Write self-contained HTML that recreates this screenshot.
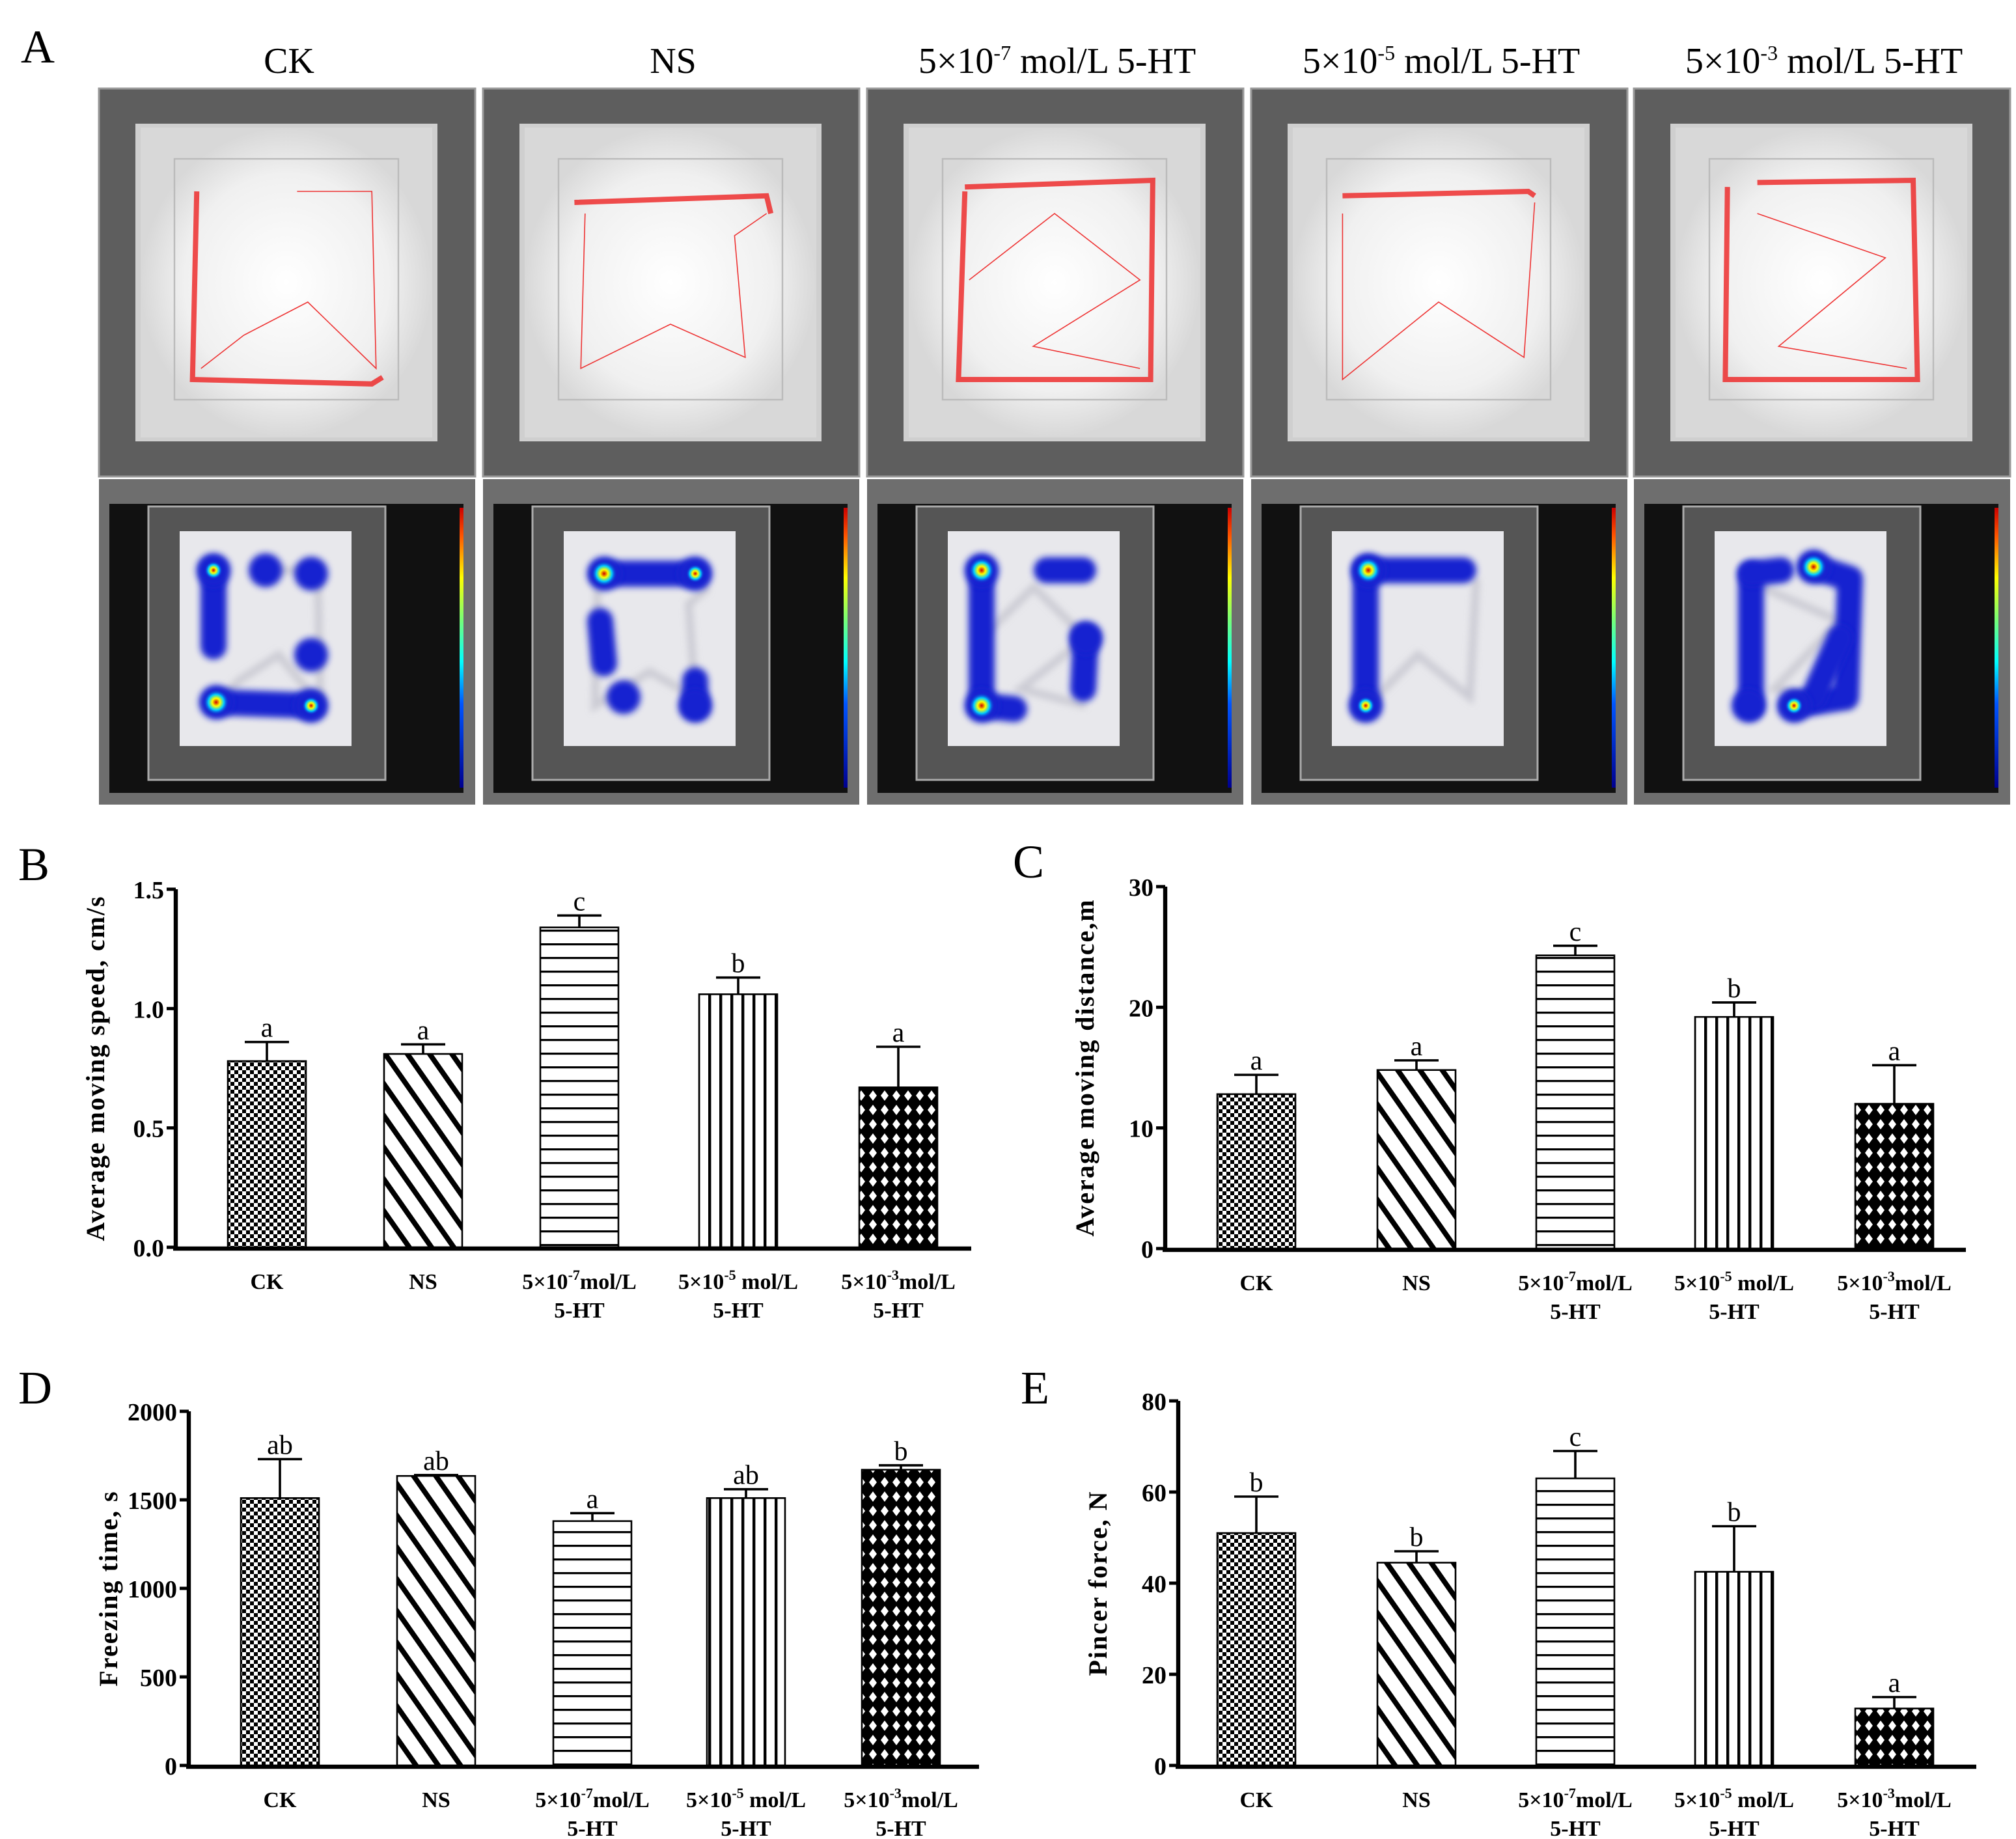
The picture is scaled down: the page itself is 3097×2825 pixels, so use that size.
<!DOCTYPE html>
<html><head><meta charset="utf-8">
<style>
html,body{margin:0;padding:0;background:#fff;}
svg{display:block;}
text{font-family:"Liberation Serif",serif;}
</style></head>
<body>
<svg id="fig" xmlns="http://www.w3.org/2000/svg" width="3097" height="2825" viewBox="0 0 1548.5 1412.5">
<defs>
<pattern id="p-check" width="6" height="6" patternUnits="userSpaceOnUse"><rect width="6" height="6" fill="#fff"/><rect width="3" height="3" fill="#000"/><rect x="3" y="3" width="3" height="3" fill="#000"/></pattern>
<pattern id="p-diag" width="14" height="14" patternUnits="userSpaceOnUse" patternTransform="rotate(-35)"><rect width="14" height="14" fill="#fff"/><rect width="4" height="14" fill="#000"/></pattern>
<pattern id="p-hor" width="10" height="10.5" patternUnits="userSpaceOnUse"><rect width="10" height="10.5" fill="#fff"/><rect y="0" width="10" height="1.6" fill="#000"/></pattern>
<pattern id="p-ver" width="8.5" height="10" patternUnits="userSpaceOnUse"><rect width="8.5" height="10" fill="#fff"/><rect width="2.2" height="10" fill="#000"/></pattern>
<pattern id="p-cross" width="9" height="11" patternUnits="userSpaceOnUse"><rect width="9" height="11" fill="#000"/><path d="M4.5 1.5 L7.5 5.5 L4.5 9.5 L1.5 5.5Z" fill="#fff"/></pattern>
<filter id="blur2" filterUnits="userSpaceOnUse" x="0" y="0" width="1549" height="1413"><feGaussianBlur stdDeviation="2.5"/></filter>
<radialGradient id="glow"><stop offset="0" stop-color="#fff"/><stop offset="0.7" stop-color="#f0f0f0"/><stop offset="1" stop-color="#d8d8d8"/></radialGradient>
<radialGradient id="hot"><stop offset="0" stop-color="#c00"/><stop offset="0.3" stop-color="#ff0"/><stop offset="0.6" stop-color="#0cf"/><stop offset="1" stop-color="#12c" stop-opacity="0"/></radialGradient>
<linearGradient id="cbar" x1="0" y1="1" x2="0" y2="0"><stop offset="0" stop-color="#00008f"/><stop offset="0.3" stop-color="#05f"/><stop offset="0.45" stop-color="#0ff"/><stop offset="0.6" stop-color="#7f7"/><stop offset="0.75" stop-color="#ff0"/><stop offset="0.9" stop-color="#f50"/><stop offset="1" stop-color="#c00"/></linearGradient>
</defs>
<g id="panelA"></g>
<g id="charts"></g>
</svg>
<script>
const NS='http://www.w3.org/2000/svg';
const svg=document.getElementById('fig');
function mk(tag,attrs,parent,txt){const e=document.createElementNS(NS,tag);for(const k in attrs)e.setAttribute(k,attrs[k]);if(txt!==undefined)e.textContent=txt;(parent||svg).appendChild(e);return e;}

// ---------- Panel A ----------
const A=document.getElementById('panelA');
const t=mk('text',{x:16,y:48,'font-size':36},A,'A');


const colX=[76,371,666,961,1255];
const colW=292;
const titles=[['CK'],['NS'],['5×10','-7',' mol/L 5-HT'],['5×10','-5',' mol/L 5-HT'],['5×10','-3',' mol/L 5-HT']];
const tracks=[
 [[0.08,0.1],[0.06,0.95],[0.9,0.97],[0.95,0.94]],
 [[0.05,0.15],[0.95,0.12],[0.97,0.2]],
 [[0.08,0.1],[0.05,0.95],[0.95,0.95],[0.96,0.05],[0.08,0.08]],
 [[0.05,0.12],[0.92,0.1],[0.95,0.12]],
 [[0.06,0.08],[0.05,0.95],[0.95,0.95],[0.93,0.05],[0.2,0.06]]];
const thin=[
 [[0.55,0.1],[0.9,0.1],[0.92,0.9],[0.6,0.6],[0.3,0.75],[0.1,0.9]],
 [[0.1,0.2],[0.08,0.9],[0.5,0.7],[0.85,0.85],[0.8,0.3],[0.95,0.2]],
 [[0.1,0.5],[0.5,0.2],[0.9,0.5],[0.4,0.8],[0.9,0.9]],
 [[0.05,0.2],[0.05,0.95],[0.5,0.6],[0.9,0.85],[0.95,0.15]],
 [[0.2,0.2],[0.8,0.4],[0.3,0.8],[0.9,0.9]]];
const heatPaths=[
 [[[0.1,0.1],[0.1,0.55]],[[0.12,0.88],[0.85,0.9]]],
 [[[0.15,0.12],[0.85,0.12]],[[0.12,0.4],[0.15,0.65]],[[0.85,0.75],[0.85,0.9]]],
 [[[0.1,0.1],[0.1,0.9],[0.35,0.92]],[[0.6,0.1],[0.88,0.1]],[[0.9,0.5],[0.88,0.8]]],
 [[[0.12,0.1],[0.85,0.1]],[[0.1,0.1],[0.1,0.9]]],
 [[[0.12,0.12],[0.12,0.9]],[[0.45,0.9],[0.85,0.85],[0.88,0.15],[0.6,0.08]],[[0.12,0.12],[0.35,0.1]],[[0.8,0.5],[0.6,0.85]]]];
const blobs=[
 [[0.1,0.1,1],[0.12,0.88,2],[0.85,0.9,1],[0.5,0.1,0],[0.85,0.12,0],[0.85,0.6,0]],
 [[0.15,0.12,2],[0.85,0.12,1],[0.3,0.85,0],[0.85,0.9,0]],
 [[0.1,0.1,2],[0.1,0.9,2],[0.9,0.5,0]],
 [[0.12,0.1,2],[0.1,0.9,1]],
 [[0.6,0.08,2],[0.45,0.9,1],[0.1,0.9,0]]];
for(let i=0;i<5;i++){
  const x=colX[i];
  const g=mk('g',{},A);
  
  
  const tt=mk('text',{x:x+colW/2,y:56,'font-size':28,'text-anchor':'middle'},g);
  
  
  tt.appendChild(document.createTextNode(titles[i][0]));
  if(titles[i].length>2){mk('tspan',{dy:-10,'font-size':16},tt,titles[i][1]);mk('tspan',{dy:10},tt,titles[i][2]);}
  const ph=mk('g',{},g);
  
  
  mk('rect',{x:x,y:68,width:colW-3,height:298,fill:'#5e5e5e',stroke:'#999','stroke-width':1.5},ph);
  mk('rect',{x:x+28,y:95,width:colW-60,height:244,fill:'#cfcfcf'},ph);
  mk('rect',{x:x+32,y:98,width:colW-68,height:238,fill:'url(#glow)'},ph);
  mk('rect',{x:x+58,y:122,width:colW-120,height:185,fill:'none',stroke:'#bbb','stroke-width':1.2},ph);
  const ix=x+62,iy=130,iw=colW-128,ih=170;
  const pt=a=>a.map(p=>(ix+p[0]*iw)+','+(iy+p[1]*ih)).join(' ');
  mk('polyline',{points:pt(tracks[i]),fill:'none',stroke:'#e22','stroke-width':4,'stroke-opacity':0.8},ph);
  mk('polyline',{points:pt(thin[i]),fill:'none',stroke:'#e33','stroke-width':0.8},ph);
  const hm=mk('g',{},g);
  
  
  mk('rect',{x:x,y:368,width:colW-3,height:250,fill:'#6e6e6e'},hm);
  mk('rect',{x:x+8,y:387,width:colW-20,height:222,fill:'#111'},hm);
  mk('rect',{x:x+38,y:389,width:colW-110,height:210,fill:'#555',stroke:'#aaa','stroke-width':1.5},hm);
  mk('rect',{x:x+62,y:408,width:colW-160,height:165,fill:'#e8e8ec'},hm);
  mk('rect',{x:x+277,y:390,width:3,height:215,fill:'url(#cbar)'},hm);
  const hx=x+78,hy=425,hw=colW-192,hh=130;
  const hp=a=>a.map(p=>(hx+p[0]*hw)+','+(hy+p[1]*hh)).join(' ');
  mk('polyline',{points:hp(thin[i]),fill:'none',stroke:'#99a','stroke-width':6,'stroke-opacity':0.35,filter:'url(#blur2)'},hm);
  heatPaths[i].forEach(p=>mk('polyline',{points:hp(p),fill:'none',stroke:'#1422d0','stroke-width':20,'stroke-linecap':'round','stroke-linejoin':'round',filter:'url(#blur2)'},hm));
  blobs[i].forEach(b=>{
    mk('circle',{cx:hx+b[0]*hw,cy:hy+b[1]*hh,r:13,fill:'#1422d0',filter:'url(#blur2)'},hm);
    if(b[2]>0)mk('circle',{cx:hx+b[0]*hw,cy:hy+b[1]*hh,r:b[2]==2?10:7,fill:'url(#hot)'},hm);
  });
}

// ---------- Bar charts ----------
const categories=['CK','NS','5×10-7mol/L 5-HT','5×10-5 mol/L 5-HT','5×10-3mol/L 5-HT'];
const speedValues=[0.78,0.81,1.34,1.06,0.67];
const speedErrors=[0.08,0.04,0.05,0.07,0.17];
const speedLetters=['a','a','c','b','a'];
const speedTicks=[0,0.5,1.0,1.5];
const distValues=[12.8,14.8,24.3,19.2,12.0];
const distErrors=[1.6,0.8,0.8,1.2,3.2];
const distLetters=['a','a','c','b','a'];
const distTicks=[0,10,20,30];
const freezeValues=[1510,1635,1380,1510,1670];
const freezeErrors=[220,5,45,50,25];
const freezeLetters=['ab','ab','a','ab','b'];
const freezeTicks=[0,500,1000,1500,2000];
const forceValues=[51,44.5,63,42.5,12.5];
const forceErrors=[8,2.5,6,10,2.5];
const forceLetters=['b','b','c','b','a'];
const forceTicks=[0,20,40,60,80];
const patterns=['url(#p-check)','url(#p-diag)','url(#p-hor)','url(#p-ver)','url(#p-cross)'];

const charts=[
 {name:'chart-b',label:'B',lx:14,ly:676,ax:135,y0:958,y1:683,max:1.5,xEnd:746,centers:[205,325,445,567,690],vals:speedValues,errs:speedErrors,lets:speedLetters,ticks:speedTicks,fmt:v=>v.toFixed(1),title:'Average moving speed,  cm/s',labY:990},
 {name:'chart-c',label:'C',lx:778,ly:674,ax:895,y0:959,y1:681,max:30,xEnd:1510,centers:[965,1088,1210,1332,1455],vals:distValues,errs:distErrors,lets:distLetters,ticks:distTicks,fmt:v=>String(v),title:'Average moving distance,m',labY:991},
 {name:'chart-d',label:'D',lx:14,ly:1078,ax:145,y0:1356,y1:1084,max:2000,xEnd:752,centers:[215,335,455,573,692],vals:freezeValues,errs:freezeErrors,lets:freezeLetters,ticks:freezeTicks,fmt:v=>String(v),title:'Freezing time,  s',labY:1388},
 {name:'chart-e',label:'E',lx:784,ly:1078,ax:905,y0:1356,y1:1076,max:80,xEnd:1518,centers:[965,1088,1210,1332,1455],vals:forceValues,errs:forceErrors,lets:forceLetters,ticks:forceTicks,fmt:v=>String(v),title:'Pincer force,  N',labY:1388}
];
const catMain=[['CK'],['NS'],['5×10','-7','mol/L'],['5×10','-5',' mol/L'],['5×10','-3','mol/L']];
const C=document.getElementById('charts');
charts.forEach(c=>{
  const g=mk('g',{},C);
  
  
  const y=v=>c.y0-(v/c.max)*(c.y0-c.y1);
  const pl=mk('text',{x:c.lx,y:c.ly,'font-size':36},g,c.label);
  
  
  const bw=60;
  c.vals.forEach((v,i)=>{
    const cx=c.centers[i];
    const bar=mk('rect',{x:cx-bw/2,y:y(v),width:bw,height:c.y0-y(v),fill:patterns[i],stroke:'#000','stroke-width':1.3},g);
    
    
    const eb=mk('path',{d:`M${cx} ${y(v)} V${y(v+c.errs[i])} M${cx-17} ${y(v+c.errs[i])} H${cx+17}`,stroke:'#000','stroke-width':1.8,fill:'none'},g);
    
    
    const lt=mk('text',{x:cx,y:y(v+c.errs[i])-4,'font-size':21,'text-anchor':'middle'},g,c.lets[i]);
    
    
    const cl=mk('text',{x:cx,y:c.labY,'font-size':17,'font-weight':'bold','text-anchor':'middle'},g);
    
    
    const m=catMain[i];
    cl.appendChild(document.createTextNode(m[0]));
    if(m.length>1){
      mk('tspan',{dy:-7,'font-size':11},cl,m[1]);
      mk('tspan',{dy:7},cl,m[2]);
      mk('tspan',{x:cx,dy:22},cl,'5-HT');
    }
  });
  const axis=mk('path',{d:`M${c.ax} ${c.y1} V${c.y0+2} M${c.ax-2} ${c.y0+1} H${c.xEnd}`,stroke:'#000','stroke-width':3.2,fill:'none'},g);
  
  
  c.ticks.forEach(tv=>{
    mk('line',{x1:c.ax-7,x2:c.ax,y1:y(tv),y2:y(tv),stroke:'#000','stroke-width':2.5},g);
    const tl=mk('text',{x:c.ax-9,y:y(tv)+7,'font-size':19,'font-weight':'bold','text-anchor':'end'},g,c.fmt(tv));
    
    
  });
  const ty=(c.y0+c.y1)/2, tx=c.ax-55;
  const yt=mk('text',{x:tx,y:ty,'font-size':20,'font-weight':'bold','letter-spacing':1,'text-anchor':'middle',transform:`rotate(-90 ${tx} ${ty})`},g,c.title);
  
  
});
</script>
</body></html>
